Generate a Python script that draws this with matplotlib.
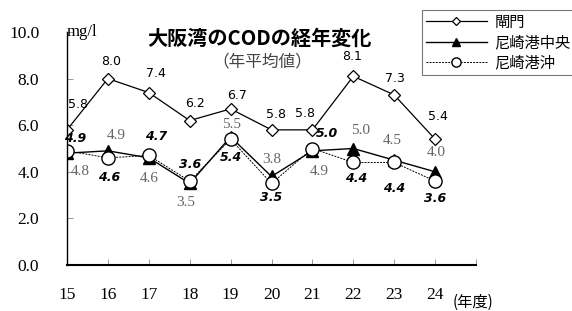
import numpy as np
import matplotlib.pyplot as plt

# 大阪湾のCOD（年平均値）
years = [15, 16, 17, 18, 19, 20, 21, 22, 23, 24]
kômon = [5.8, 8.0, 7.4, 6.2, 6.7, 5.8, 5.8, 8.1, 7.3, 5.4]
chuo = [4.8, 4.9, 4.6, 3.5, 5.5, 3.8, 4.9, 5.0, 4.5, 4.0]
oki = [4.9, 4.6, 4.7, 3.6, 5.4, 3.5, 5.0, 4.4, 4.4, 3.6]
names = ['閘門', '尼崎港中央', '尼崎港沖']
yticks = [0, 2, 4, 6, 8, 10]

# ラベルの位置（ピクセル単位のずれ）
off_k = [(11, 25), (3, 17), (7, 19), (5, 17), (6, 13), (4, 15), (-7, 16), (-1, 20), (1, 16), (3, 23)]
off_c = [(13, -18), (8, 15), (0, -21), (-4, -19), (1, 12), (0, 17), (7, -21), (7, 18), (-2, 20), (1, 19)]
off_o = [(8, 12), (1, -20), (7, 19), (0, 17), (0, -18), (0, -14), (15, 15), (3, -16), (0, -26), (0, -17)]

jp = ['Noto Sans CJK JP', 'DejaVu Sans']
serif = ['Liberation Serif', 'DejaVu Serif']

fig = plt.figure(figsize=(5.72, 3.11), dpi=100)
ax = fig.add_axes([67 / 572, 46 / 311, 409 / 572, 233 / 311])

ax.plot(years, kômon, '-', color='black', lw=0.9, marker='D', ms=6.5,
        mfc='white', mec='black', mew=0.9, label=names[0])
ax.plot(years, chuo, '-', color='black', lw=1.0, marker='^', ms=8,
        mfc='black', mec='black', label=names[1])
ax.plot(years, oki, '--', color='black', lw=0.7, dashes=(2, 1.2), marker='o', ms=9.5,
        mfc='white', mec='black', mew=1.0, label=names[2])

k = 72 / 100
for x, v, (dx, dy) in zip(years, kômon, off_k):
    ax.annotate(f'{v:.1f}', (x, v), xytext=(dx * k, dy * k), textcoords='offset points',
                ha='center', va='center', fontsize=9, family='DejaVu Sans')
for x, v, (dx, dy) in zip(years, chuo, off_c):
    ax.annotate(f'{v:.1f}', (x, v), xytext=(dx * k, dy * k), textcoords='offset points',
                ha='center', va='center', fontsize=11, family=serif, color='#666666')
for x, v, (dx, dy) in zip(years, oki, off_o):
    ax.annotate(f'{v:.1f}', (x, v), xytext=(dx * k, dy * k), textcoords='offset points',
                ha='center', va='center', fontsize=9, family='DejaVu Sans',
                fontweight='bold', style='italic')

ax.set_xlim(15, 25)
ax.set_ylim(0, 10)
ax.set_xticks(years + [25])
ax.set_xticklabels([str(y) for y in years] + [''], family=serif, fontsize=12.5)
ax.set_yticks(yticks)
ax.set_yticklabels([f'{t:.1f}' for t in yticks], family=serif, fontsize=12.5)
ax.tick_params(direction='in', length=4, width=0.6, color='#888888')
ax.tick_params(axis='y', pad=20)
ax.tick_params(axis='x', pad=16)
for s in ['top', 'right']:
    ax.spines[s].set_visible(False)
ax.spines['left'].set_linewidth(1.0)
ax.spines['bottom'].set_linewidth(1.5)

fig.text(67 / 572, 1 - 32 / 311, 'mg/l', family=serif, fontsize=12, va='center')
fig.text(259 / 572, 1 - 38 / 311, '大阪湾のCODの経年変化', family=jp, fontsize=14.5,
         fontweight='bold', ha='center', va='center')
fig.text(262 / 572, 1 - 62 / 311, '（年平均値）', family=jp, fontsize=12,
         color='#444444', ha='center', va='center')
fig.text(453 / 572, 1 - 302 / 311, '(年度)', family=jp, fontsize=11, va='center')

leg = fig.legend(loc='upper left', bbox_to_anchor=(422 / 572, 1 - 10 / 311),
                 prop={'family': jp, 'size': 11}, frameon=True, fancybox=False,
                 edgecolor='#555555', handlelength=4.0, borderpad=0.25,
                 labelspacing=0.22, handletextpad=0.5, markerscale=0.7,
                 borderaxespad=0)
leg.get_frame().set_linewidth(0.8)

fig.savefig('out.png', dpi=100)
